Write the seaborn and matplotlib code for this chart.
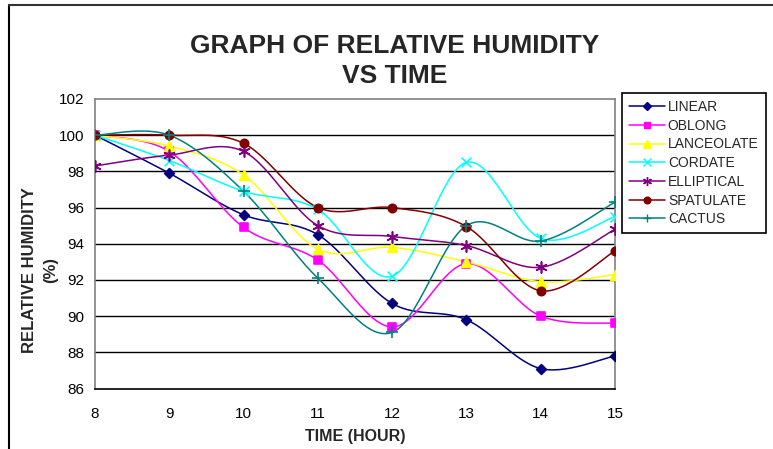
import numpy as np
import pandas as pd
import seaborn as sns
import matplotlib.pyplot as plt
from matplotlib.lines import Line2D

# data
hours = [8, 9, 10, 11, 12, 13, 14, 15]
linear = [100.0, 97.9, 95.6, 94.5, 90.7, 89.8, 87.1, 87.8]
oblong = [100.0, 99.1, 94.9, 93.1, 89.4, 92.9, 90.0, 89.6]
lanceolate = [100.0, 99.4, 97.8, 93.7, 93.8, 93.0, 91.9, 92.3]
cordate = [100.0, 98.6, 96.9, 95.9, 92.2, 98.5, 94.3, 95.5]
elliptical = [98.3, 98.9, 99.1, 95.0, 94.4, 93.9, 92.7, 94.8]
spatulate = [100.0, 100.0, 99.55, 96.0, 96.0, 94.95, 91.4, 93.6]
cactus = [100.0, 100.0, 96.9, 92.1, 89.1, 95.0, 94.15, 96.3]

names = ['LINEAR', 'OBLONG', 'LANCEOLATE', 'CORDATE', 'ELLIPTICAL', 'SPATULATE', 'CACTUS']
values = [linear, oblong, lanceolate, cordate, elliptical, spatulate, cactus]
colors = ['#000080', '#FF00FF', '#FFFF00', '#00FFFF', '#800080', '#800000', '#008080']
markers = ['D', 's', '^', 'x', (6, 2, 0), 'o', '+']
msizes = [5, 6, 7, 7, 8, 6, 8]


def smooth(x, y, n=30):
    # excel-style smoothed line (bezier segments, tangents from neighbours / 6)
    x = np.asarray(x, float)
    y = np.asarray(y, float)
    px = np.concatenate([[x[0]], x, [x[-1]]])
    py = np.concatenate([[y[0]], y, [y[-1]]])
    xs, ys = [], []
    t = np.linspace(0, 1, n)
    for i in range(1, len(px) - 2):
        p0 = np.array([px[i], py[i]])
        p3 = np.array([px[i + 1], py[i + 1]])
        c1 = p0 + (np.array([px[i + 1], py[i + 1]]) - np.array([px[i - 1], py[i - 1]])) / 6
        c2 = p3 - (np.array([px[i + 2], py[i + 2]]) - np.array([px[i], py[i]])) / 6
        pts = ((1 - t)[:, None] ** 3 * p0 + 3 * ((1 - t) ** 2 * t)[:, None] * c1
               + 3 * ((1 - t) * t ** 2)[:, None] * c2 + (t ** 3)[:, None] * p3)
        xs.extend(pts[:, 0])
        ys.extend(pts[:, 1])
    return xs, ys


sns.set_style('white')
plt.rcParams['font.family'] = ['Liberation Sans', 'DejaVu Sans']

fig = plt.figure(figsize=(7.73, 4.49), dpi=100)
ax = fig.add_axes([95 / 773, 1 - 388.5 / 449, 520 / 773, 289.5 / 449])

for yv in [88, 90, 92, 94, 96, 98, 100]:
    ax.axhline(yv, color='black', lw=1.0, zorder=0)

for name, vals, col, mk, ms in zip(names, values, colors, markers, msizes):
    sx, sy = smooth(hours, vals)
    curve = pd.DataFrame({'hour': sx, 'rh': sy})
    sns.lineplot(data=curve, x='hour', y='rh', color=col, lw=1.1, sort=False,
                 estimator=None, ax=ax, zorder=2)
    pts = pd.DataFrame({'hour': hours, 'rh': vals})
    sns.scatterplot(data=pts, x='hour', y='rh', color=col, marker=mk, s=ms ** 2,
                    edgecolor=col, linewidth=1.2, ax=ax, zorder=3)

ax.set_xlim(8, 15)
ax.set_ylim(86, 102)
ax.set_xticks(hours)
ax.set_yticks(np.arange(86, 103, 2))
ax.tick_params(axis='both', direction='out', length=5, width=1, colors='black',
               labelsize=11)
ax.tick_params(axis='x', pad=8, color='#808080')
ax.tick_params(axis='y', pad=3)
ax.spines['left'].set_color('#808080')
ax.spines['bottom'].set_color('black')
ax.spines['top'].set_color('#808080')
ax.spines['right'].set_color('#808080')
for s in ax.spines.values():
    s.set_linewidth(1.2)

ax.set_xlabel('TIME (HOUR)', fontsize=11.5, fontweight='bold', labelpad=6)
ax.set_ylabel('')
fig.text(40 / 773, 1 - 270 / 449, 'RELATIVE HUMIDITY\n(%)', rotation=90, ha='center',
         va='center', fontsize=12, fontweight='bold', linespacing=1.45)

fig.text(395 / 773, 1 - 61 / 449, 'GRAPH OF RELATIVE HUMIDITY\nVS TIME', ha='center',
         va='center', fontsize=19, fontweight='bold', linespacing=1.3)

handles = [Line2D([], [], color=c, marker=m, markersize=ms * 0.8, lw=1.1,
                  markeredgecolor=c, markeredgewidth=1.0)
           for c, m, ms in zip(colors, markers, msizes)]
leg = fig.legend(handles, names, loc='upper left', bbox_to_anchor=(622 / 773, 1 - 93 / 449),
                 borderaxespad=0, fancybox=False, edgecolor='black', fontsize=10,
                 labelspacing=0.34, handlelength=2.6, handletextpad=0.2,
                 borderpad=0.5, framealpha=1)
leg.get_frame().set_linewidth(1.2)

# outer chart area border
fig.add_artist(Line2D([9 / 773, 9 / 773], [0, 1 - 5 / 449], color='black', lw=1.5,
                      transform=fig.transFigure))
fig.add_artist(Line2D([9 / 773, 1], [1 - 5 / 449, 1 - 5 / 449], color='#333333', lw=1.5,
                      transform=fig.transFigure))

fig.savefig('out.png', dpi=100)
